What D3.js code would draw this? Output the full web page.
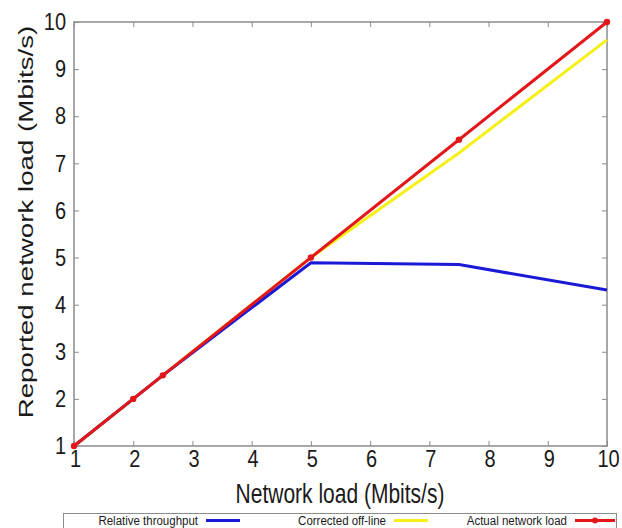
<!DOCTYPE html>
<html>
<head>
<meta charset="utf-8">
<script src="https://cdn.jsdelivr.net/npm/d3@7"></script>
<style>
  body { margin: 0; background: #fff; }
  text { font-family: "Liberation Sans", Arial, sans-serif; fill: #1a1a1a; }
</style>
</head>
<body>
<div class="chart"></div>
<script>
// data
var loads      = [1, 2, 2.5, 5, 7.5, 10];
var throughput = [1, 2, 2.5, 4.89, 4.85, 4.31];
var corrected  = [1, 2, 2.5, 5, 7.22, 9.62];
var actual     = [1, 2, 2.5, 5, 7.5, 10];
var ticks      = [1, 2, 3, 4, 5, 6, 7, 8, 9, 10];
var legendNames = ['Relative throughput', 'Corrected off-line', 'Actual network load'];

var margin = { top: 22, right: 15, bottom: 82, left: 74 },
    width  = 622 - margin.left - margin.right,
    height = 528 - margin.top - margin.bottom;

var x = d3.scaleLinear().domain([1, 10]).range([0, width]);
var y = d3.scaleLinear().domain([1, 10]).range([height, 0]);

var svg = d3.select('.chart')
    .append('svg')
    .attr('width', 622)
    .attr('height', 528);

var g = svg.append('g')
    .attr('transform', 'translate(' + margin.left + ',' + margin.top + ')');

// frame
g.append('rect')
    .attr('width', width)
    .attr('height', height)
    .attr('fill', 'none')
    .attr('stroke', '#8c8c8c')
    .attr('stroke-width', 1.5);

// axes, ticks pointing inward, box on all sides
// the source picture is stretched vertically, so text gets a y-scale
function styleAxis(sel) {
    sel.select('.domain').remove();
    sel.selectAll('.tick line').attr('stroke', '#8c8c8c').attr('stroke-width', 1);
    sel.selectAll('.tick text')
        .style('font-family', '"Liberation Sans", Arial, sans-serif')
        .style('font-size', '20px')
        .attr('fill', '#1a1a1a');
}

g.append('g')
    .attr('transform', 'translate(0,' + height + ')')
    .call(d3.axisBottom(x).tickValues(ticks).tickSize(-5).tickFormat(d3.format('d')))
    .call(styleAxis)
    .selectAll('.tick text')
    .attr('y', 0)
    .attr('dy', 0)
    .attr('transform', 'translate(1,21) scale(1,1.2)');

g.append('g')
    .call(d3.axisLeft(y).tickValues(ticks).tickSize(-5).tickPadding(8).tickFormat(d3.format('d')))
    .call(styleAxis)
    .selectAll('.tick text')
    .attr('transform', 'scale(1,1.2)');

g.append('g')
    .call(d3.axisTop(x).tickValues(ticks).tickSize(-5).tickFormat(''))
    .call(styleAxis);

g.append('g')
    .attr('transform', 'translate(' + width + ',0)')
    .call(d3.axisRight(y).tickValues(ticks).tickSize(-5).tickFormat(''))
    .call(styleAxis);

// axis titles
svg.append('text')
    .attr('transform', 'translate(340,503) scale(1,1.3)')
    .attr('text-anchor', 'middle')
    .attr('font-size', '21px')
    .text('Network load (Mbits/s)');

svg.append('text')
    .attr('transform', 'translate(33,222) rotate(-90) scale(1.32,1)')
    .attr('text-anchor', 'middle')
    .attr('font-size', '21px')
    .text('Reported network load (Mbits/s)');

// lines
var line = d3.line()
    .x(function(d, i) { return x(loads[i]); })
    .y(function(d) { return y(d); });

g.append('path')
    .datum(corrected)
    .attr('fill', 'none')
    .attr('stroke', '#f5f017')
    .attr('stroke-width', 3)
    .attr('d', line);

g.append('path')
    .datum(throughput)
    .attr('fill', 'none')
    .attr('stroke', '#1a1ad6')
    .attr('stroke-width', 3)
    .attr('d', line);

g.append('path')
    .datum(actual)
    .attr('fill', 'none')
    .attr('stroke', '#e3171a')
    .attr('stroke-width', 3)
    .attr('d', line);

g.selectAll('circle.pt')
    .data(actual)
    .enter()
    .append('circle')
    .attr('class', 'pt')
    .attr('cx', function(d, i) { return x(loads[i]); })
    .attr('cy', function(d) { return y(d); })
    .attr('r', 3.2)
    .attr('fill', '#e3171a');

// legend
var legend = svg.append('g');
legend.append('rect')
    .attr('x', 63.5)
    .attr('y', 513.5)
    .attr('width', 553)
    .attr('height', 16)
    .attr('fill', '#fff')
    .attr('stroke', '#8c8c8c');

var legendColors = ['#1a1ad6', '#f5f017', '#e3171a'];
var legendTextEnd = [198, 386, 567];

legendNames.forEach(function(name, i) {
    legend.append('text')
        .attr('transform', 'translate(' + legendTextEnd[i] + ',525) scale(1,1.15)')
        .attr('text-anchor', 'end')
        .attr('font-size', '11.5px')
        .text(name);
    var x0 = legendTextEnd[i] + 8;
    legend.append('line')
        .attr('x1', x0)
        .attr('x2', x0 + (i == 2 ? 40 : 34))
        .attr('y1', 520.5)
        .attr('y2', 520.5)
        .attr('stroke', legendColors[i])
        .attr('stroke-width', 3);
    if (i == 2) {
        legend.append('circle')
            .attr('cx', x0 + 20)
            .attr('cy', 520.5)
            .attr('r', 3)
            .attr('fill', legendColors[i]);
    }
});
</script>
</body>
</html>
